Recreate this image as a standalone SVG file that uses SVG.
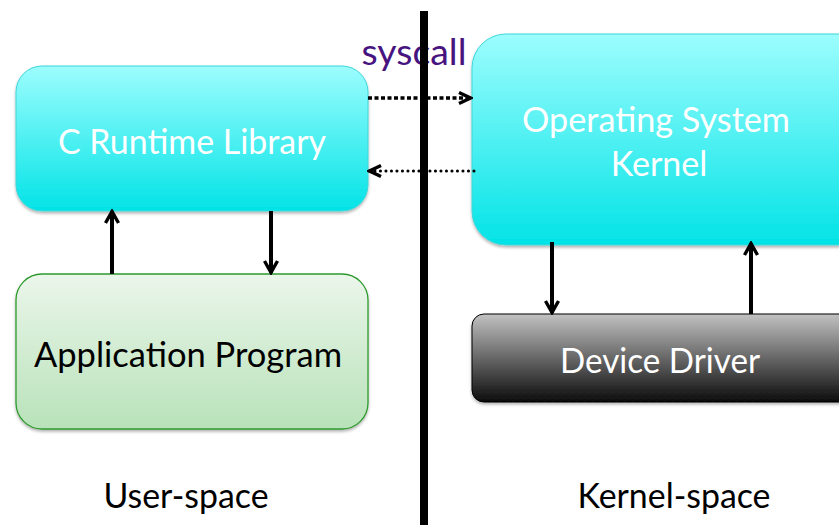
<svg xmlns="http://www.w3.org/2000/svg" width="839" height="525" viewBox="0 0 839 525">
<defs>
<linearGradient id="cyan" x1="0" y1="0" x2="0" y2="1"><stop offset="0" stop-color="#9dfdfe"/><stop offset="1" stop-color="#02e3e6"/></linearGradient>
<linearGradient id="green" x1="0" y1="0" x2="0" y2="1"><stop offset="0" stop-color="#ebf6eb"/><stop offset="1" stop-color="#b8e2b9"/></linearGradient>
<linearGradient id="dark" x1="0" y1="0" x2="0" y2="1"><stop offset="0" stop-color="#c2c2c2"/><stop offset="1" stop-color="#0c0c0c"/></linearGradient>
<filter id="sh" x="-10%" y="-10%" width="120%" height="130%"><feDropShadow dx="0" dy="2" stdDeviation="1.5" flood-color="#000" flood-opacity="0.3"/></filter>
<marker id="ah" viewBox="0 0 16 16" refX="14" refY="8" markerWidth="16" markerHeight="16" markerUnits="userSpaceOnUse" orient="auto"><path d="M2,1.5 L13.5,8 L2,14.5" fill="none" stroke="#000" stroke-width="3.4"/></marker>
<marker id="ah2" viewBox="0 0 16 16" refX="14" refY="8" markerWidth="16" markerHeight="16" markerUnits="userSpaceOnUse" orient="auto"><path d="M2,2.5 L13.5,8 L2,13.5" fill="none" stroke="#000" stroke-width="3.4"/></marker>
</defs>
<style>
.lbl{font-family:Lato,"Liberation Sans",sans-serif;text-anchor:middle;font-size:34px}
.w{fill:#fff}
.k{fill:#000}
.conn{stroke:#000;fill:none}
</style>
<text x="414" y="65" textLength="105" lengthAdjust="spacingAndGlyphs" style="font-family:Lato,'Liberation Sans',sans-serif;font-size:37px;fill:#47137f;text-anchor:middle">syscall</text>
<g id="crt"><rect x="16" y="66" width="352" height="145" rx="26" fill="url(#cyan)" stroke="#3fd6da" stroke-width="1" filter="url(#sh)"/><text class="lbl w" x="192" y="154" textLength="268" lengthAdjust="spacingAndGlyphs">C Runtime Library</text></g>
<g id="app"><rect x="16" y="274" width="352" height="155" rx="26" fill="url(#green)" stroke="#2f9a2f" stroke-width="1.3" filter="url(#sh)"/><text class="lbl k" x="188" y="367" textLength="308" lengthAdjust="spacingAndGlyphs">Application Program</text></g>
<g id="kernel"><rect x="472" y="34" width="400" height="211" rx="34" fill="url(#cyan)" stroke="#3fd6da" stroke-width="1" filter="url(#sh)"/><text class="lbl w" x="656" y="132" textLength="268" lengthAdjust="spacingAndGlyphs">Operating System</text><text class="lbl w" x="659" y="176">Kernel</text></g>
<g id="driver"><rect x="472" y="314" width="400" height="88" rx="12" fill="url(#dark)" stroke="#000" stroke-width="1" filter="url(#sh)"/><text class="lbl w" x="660" y="373" textLength="200" lengthAdjust="spacingAndGlyphs">Device Driver</text></g>
<g id="connectors">
<line class="conn" x1="368" y1="98" x2="471" y2="98" stroke-width="3.5" stroke-dasharray="4,2.5" marker-end="url(#ah2)"/>
<line class="conn" x1="474" y1="171" x2="369" y2="171" stroke-width="3" stroke-linecap="round" stroke-dasharray="0.1,5.4" marker-end="url(#ah2)"/>
<line class="conn" x1="112" y1="274" x2="112" y2="211" stroke-width="4" marker-end="url(#ah)"/>
<line class="conn" x1="271" y1="211" x2="271" y2="273" stroke-width="4" marker-end="url(#ah)"/>
<line class="conn" x1="552" y1="242" x2="552" y2="313" stroke-width="4" marker-end="url(#ah)"/>
<line class="conn" x1="751" y1="314" x2="751" y2="243" stroke-width="4" marker-end="url(#ah)"/>
</g>
<rect x="420" y="11" width="8" height="514" fill="#000"/>
<text class="lbl k" x="186" y="508" textLength="165" lengthAdjust="spacingAndGlyphs">User-space</text>
<text class="lbl k" x="674" y="508" textLength="193" lengthAdjust="spacingAndGlyphs">Kernel-space</text>
</svg>
